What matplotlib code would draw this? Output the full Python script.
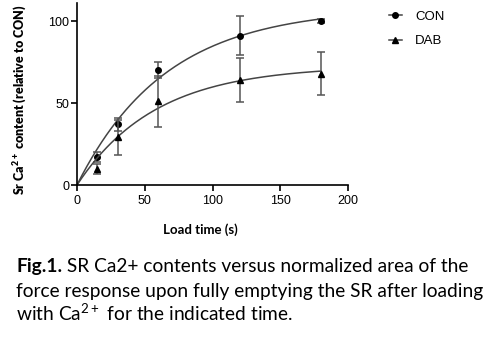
import numpy as np
import matplotlib
matplotlib.use('Agg')
import matplotlib.pyplot as plt

# load time (s) and SR Ca content relative to CON
load_time = [15, 30, 60, 120, 180]
con_mean = [17, 37, 70, 91, 100]
con_err = [3, 4, 5, 12, 1]
dab_mean = [10, 29, 51, 64, 68]
dab_err = [3, 10.5, 15.5, 13.5, 13]

plt.rcParams['font.family'] = ['Liberation Sans', 'DejaVu Sans']
plt.rcParams['mathtext.default'] = 'regular'


def one_phase_fit(x, y):
    # Y = Ymax*(1-exp(-k*x)), least squares over k, Ymax solved directly
    x = np.asarray(x, float)
    y = np.asarray(y, float)
    best = None
    for k in np.linspace(0.001, 0.1, 2000):
        g = 1 - np.exp(-k * x)
        ymax = np.dot(g, y) / np.dot(g, g)
        sse = np.sum((y - ymax * g) ** 2)
        if best is None or sse < best[0]:
            best = (sse, k, ymax)
    return best[1], best[2]


fig = plt.figure(figsize=(4.96, 3.38), dpi=100)
ax = fig.add_axes([77 / 496, 1 - 185 / 338, 271 / 496, 182 / 338])

xs = np.linspace(0, 180, 200)
for mean, err, mk, ms, lab in [(con_mean, con_err, 'o', 4, 'CON'),
                               (dab_mean, dab_err, '^', 5, 'DAB')]:
    k, ymax = one_phase_fit(load_time, mean)
    ax.plot(xs, ymax * (1 - np.exp(-k * xs)), color='#444444', lw=1.1)
    ax.errorbar(load_time, mean, yerr=err, fmt='none', ecolor='#555555',
                elinewidth=1.1, capsize=3, capthick=1.1)
    ax.plot(load_time, mean, linestyle='none', marker=mk, ms=ms, color='black')
    ax.plot([], [], color='#444444', lw=1.1, marker=mk, ms=ms,
            markerfacecolor='black', markeredgecolor='black', label=lab)

ax.set_xlim(0, 200)
ax.set_ylim(0, 111)
ax.set_xticks([0, 50, 100, 150, 200])
ax.set_yticks([0, 50, 100])
ax.spines['top'].set_visible(False)
ax.spines['right'].set_visible(False)
ax.spines['left'].set_bounds(0, 111)
for s in ['left', 'bottom']:
    ax.spines[s].set_linewidth(1.2)
ax.tick_params(direction='out', length=4, width=1.2, labelsize=9, pad=1.5)
ax.tick_params(axis='x', pad=3)

fig.legend(loc='upper left', bbox_to_anchor=(377 / 496, 1 + 1 / 338),
           frameon=False, handlelength=1.0, handletextpad=1.0,
           labelspacing=0.9, fontsize=9.5)

fig.text(20 / 496, 1 - 100 / 338, 'Sr Ca$^{2+}$ content (relative to CON)',
         rotation=90, ha='center', va='center', fontsize=9,
         family=['Lato', 'DejaVu Sans'], fontweight='heavy')
fig.text(200 / 496, 1 - 230 / 338, 'Load time (s)', ha='center', va='center',
         fontsize=9.5, family=['Lato', 'DejaVu Sans'], fontweight='bold')

cap_kw = dict(fontsize=13.8, family=['Lato', 'DejaVu Sans'])
head = fig.text(16 / 496, 1 - 272 / 338, 'Fig.1.', fontweight='bold',
                va='baseline', **cap_kw)
fig.text(0, 0, '', **cap_kw)
ax.annotate(' SR Ca2+ contents versus normalized area of the',
            xy=(1, 0), xycoords=head, va='bottom', ha='left', **cap_kw)
fig.text(16 / 496, 1 - 297 / 338,
         'force response upon fully emptying the SR after loading',
         va='baseline', **cap_kw)
fig.text(16 / 496, 1 - 321 / 338,
         'with Ca$^{2+}$ for the indicated time.', va='baseline', **cap_kw)

fig.savefig('out.png', dpi=100)
